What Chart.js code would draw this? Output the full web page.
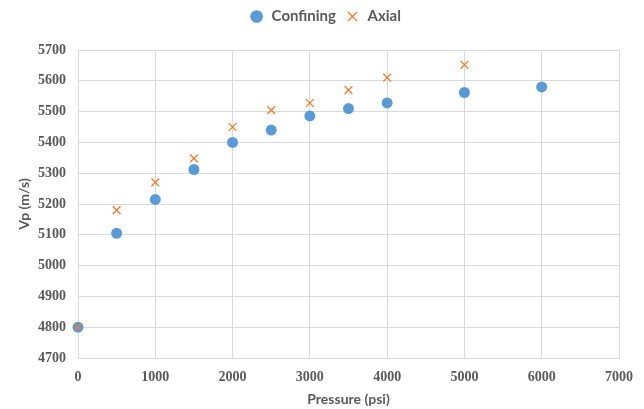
<!DOCTYPE html>
<html>
<head>
<meta charset="utf-8">
<script src="https://cdn.jsdelivr.net/npm/chart.js@4"></script>
<style>
  html, body { margin: 0; padding: 0; background: #fff; }
  #wrap { width: 644px; height: 409px; position: relative; }
</style>
</head>
<body>
<div id="wrap"><canvas id="chart"></canvas></div>
<script>
// Pressure (psi) vs Vp (m/s)
const confiningPressure = [0, 500, 1000, 1500, 2000, 2500, 3000, 3500, 4000, 5000, 6000];
const confiningVp = [4800, 5105, 5215, 5312, 5400, 5440, 5486, 5510, 5528, 5562, 5580];
const axialPressure = [0, 500, 1000, 1500, 2000, 2500, 3000, 3500, 4000, 5000];
const axialVp = [4800, 5180, 5270, 5348, 5450, 5505, 5528, 5570, 5610, 5652];

const xMin = 0, xMax = 7000, xStep = 1000;
const yMin = 4700, yMax = 5700, yStep = 100;

function toPoints(xs, ys) {
    return xs.map((x, i) => ({ x: x, y: ys[i] }));
}

const gridColor = '#D9D9D9';
const textColor = '#595959';
const tickFont = { family: "'Liberation Serif', 'Times New Roman', serif", size: 14, weight: 'bold' };
const titleFont = { family: "Lato, 'Open Sans', sans-serif", size: 14, weight: 'bold' };

// extra room below the legend
const legendSpacer = {
    id: 'legendSpacer',
    beforeInit(chart) {
        const origFit = chart.legend.fit;
        chart.legend.fit = function () {
            origFit.bind(chart.legend)();
            this.height += 16;
        };
    }
};

new Chart(document.getElementById('chart').getContext('2d'), {
    type: 'scatter',
    data: {
        datasets: [
            {
                label: 'Confining',
                data: toPoints(confiningPressure, confiningVp),
                order: 1,
                clip: false,
                pointStyle: 'circle',
                pointRadius: 5.5,
                pointHoverRadius: 5.5,
                backgroundColor: '#5B9BD5',
                borderColor: '#5B9BD5',
                borderWidth: 0
            },
            {
                label: 'Axial',
                data: toPoints(axialPressure, axialVp),
                order: 0,
                clip: false,
                pointStyle: 'crossRot',
                pointRadius: 5.5,
                pointHoverRadius: 5.5,
                backgroundColor: '#ED7D31',
                borderColor: '#ED7D31',
                borderWidth: 1.3
            }
        ]
    },
    plugins: [legendSpacer],
    options: {
        responsive: true,
        maintainAspectRatio: false,
        animation: false,
        layout: { padding: { left: 16, right: 10, top: 0, bottom: 1 } },
        plugins: {
            legend: {
                position: 'top',
                labels: {
                    usePointStyle: true,
                    boxHeight: 9,
                    padding: 9,
                    color: textColor,
                    font: { family: "Lato, 'Open Sans', sans-serif", size: 15, weight: 'bold' },
                    sort: (a, b) => a.datasetIndex - b.datasetIndex
                }
            },
            tooltip: { enabled: false }
        },
        scales: {
            x: {
                type: 'linear',
                min: xMin,
                max: xMax,
                afterFit: scale => { scale.height = 50; },
                ticks: {
                    stepSize: xStep,
                    color: textColor,
                    padding: 11,
                    maxRotation: 0,
                    font: tickFont,
                    callback: v => String(v)
                },
                grid: { color: gridColor, lineWidth: 1, drawTicks: false },
                border: { color: gridColor },
                title: {
                    display: true,
                    text: 'Pressure (psi)',
                    color: textColor,
                    padding: { top: 5, bottom: 0 },
                    font: titleFont
                }
            },
            y: {
                type: 'linear',
                min: yMin,
                max: yMax,
                afterFit: scale => { scale.width = 62; },
                ticks: {
                    stepSize: yStep,
                    color: textColor,
                    padding: 12,
                    font: tickFont,
                    callback: v => String(v)
                },
                grid: { color: gridColor, lineWidth: 1, drawTicks: false },
                border: { color: gridColor },
                title: {
                    display: true,
                    text: 'Vp (m/s)',
                    color: textColor,
                    padding: { top: 0, bottom: 4 },
                    font: titleFont
                }
            }
        }
    }
});
</script>
</body>
</html>
